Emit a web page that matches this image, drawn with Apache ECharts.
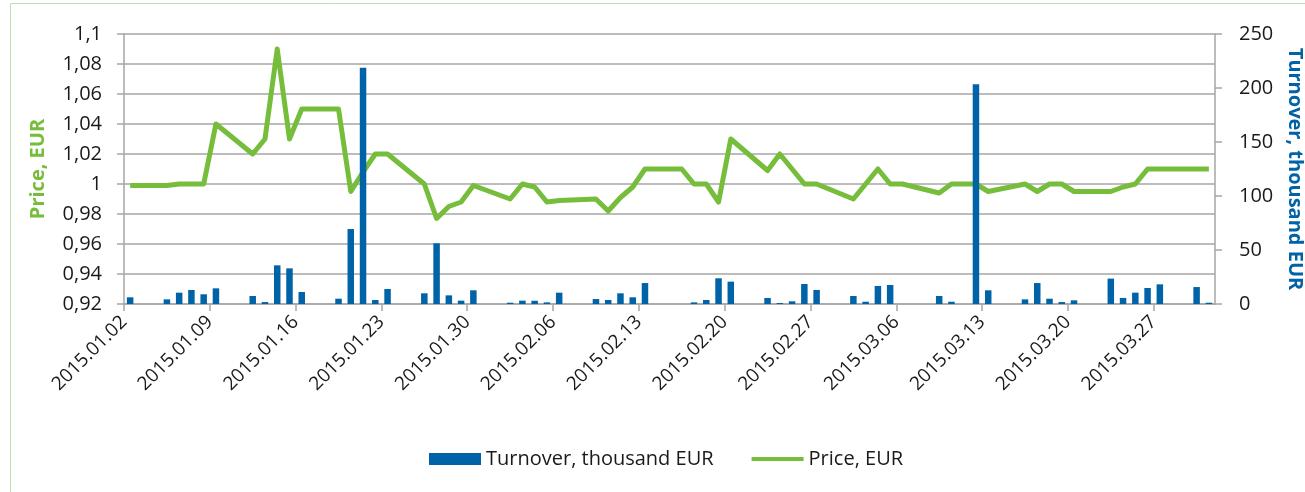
<!DOCTYPE html>
<html>
<head>
<meta charset="utf-8">
<script src="https://cdn.jsdelivr.net/npm/echarts@6/dist/echarts.min.js"></script>
<style>
	html, body { margin: 0; padding: 0; background: #fff; }
	#main { width: 1305px; height: 492px; }
</style>
</head>
<body>
<div id="main"></div>
<script>
// trading days
var dates = [
	'2015.01.02', '2015.01.05', '2015.01.06', '2015.01.07', '2015.01.08', '2015.01.09',
	'2015.01.12', '2015.01.13', '2015.01.14', '2015.01.15', '2015.01.16',
	'2015.01.19', '2015.01.20', '2015.01.21', '2015.01.22', '2015.01.23',
	'2015.01.26', '2015.01.27', '2015.01.28', '2015.01.29', '2015.01.30',
	'2015.02.02', '2015.02.03', '2015.02.04', '2015.02.05', '2015.02.06',
	'2015.02.09', '2015.02.10', '2015.02.11', '2015.02.12', '2015.02.13',
	'2015.02.16', '2015.02.17', '2015.02.18', '2015.02.19', '2015.02.20',
	'2015.02.23', '2015.02.24', '2015.02.25', '2015.02.26', '2015.02.27',
	'2015.03.02', '2015.03.03', '2015.03.04', '2015.03.05', '2015.03.06',
	'2015.03.09', '2015.03.10', '2015.03.11', '2015.03.12', '2015.03.13',
	'2015.03.16', '2015.03.17', '2015.03.18', '2015.03.19', '2015.03.20',
	'2015.03.23', '2015.03.24', '2015.03.25', '2015.03.26', '2015.03.27',
	'2015.03.30', '2015.03.31'
];
// thousand EUR, null = no trade
var turnover = [
	6.2, 4.3, 10.5, 13, 9, 14.5,
	7.4, 1.8, 35.8, 33, 11.1,
	4.9, 69.4, 218.8, 3.7, 13.9,
	9.9, 56.2, 8, 3.1, 12.7,
	1.2, 3.1, 3, 1.5, 10.5,
	4.6, 3.7, 9.9, 6.2, 19.4,
	null, 1.5, 3.7, 23.8, 20.7,
	5.6, 0.9, 2.5, 18.5, 13,
	7.4, 2.1, 16.7, 17.6, null,
	7.4, 2.1, null, 203.4, 12.7,
	4.3, 19.4, 4.9, 1.8, 3.4,
	23.5, 5.6, 10.5, 14.8, 18.2,
	15.7, 1.2
];
// EUR
var price = [
	0.999, 0.999, 1.0, 1.0, 1.0, 1.04,
	1.02, 1.03, 1.09, 1.03, 1.05,
	1.05, 0.995, 1.008, 1.02, 1.02,
	1.0, 0.977, 0.985, 0.988, 0.999,
	0.99, 1.0, 0.998, 0.988, 0.989,
	0.99, 0.982, 0.991, 0.998, 1.01,
	1.01, 1.0, 1.0, 0.988, 1.03,
	1.009, 1.02, 1.01, 1.0, 1.0,
	0.99, 1.0, 1.01, 1.0, 1.0,
	0.994, 1.0, 1.0, 1.0, 0.995,
	1.0, 0.995, 1.0, 1.0, 0.995,
	0.995, 0.998, 1.0, 1.01, 1.01,
	1.01, 1.01
];
var priceTicks = { min: 0.92, max: 1.1, step: 0.02 };
var turnoverTicks = { min: 0, max: 250, step: 50 };

var DAY = 86400000;
var startDay = Date.UTC(2015, 0, 2);

function dayIndex(s) {
	var p = s.split('.');
	return (Date.UTC(+p[0], +p[1] - 1, +p[2]) - startDay) / DAY;
}
function pad(n) {
	return n < 10 ? '0' + n : '' + n;
}
function dayLabel(v) {
	var d = new Date(startDay + Math.round(v) * DAY);
	return d.getUTCFullYear() + '.' + pad(d.getUTCMonth() + 1) + '.' + pad(d.getUTCDate());
}

var barData = [];
var lineData = [];
for (var i = 0; i < dates.length; i++) {
	var x = dayIndex(dates[i]) + 0.5; // centre of the day slot
	if (turnover[i] != null) {
		barData.push([x, turnover[i]]);
	}
	lineData.push([x, price[i]]);
}
var lastDay = dayIndex(dates[dates.length - 1]) + 1;

var font = "'Open Sans', sans-serif";
var gridColor = '#a6a6a6';
var blue = '#0063a7';
var green = '#76bd3c';

var option = {
	animation: false,
	textStyle: { fontFamily: font },
	graphic: [{
		type: 'rect',
		shape: { x: 10.5, y: 3.5, width: 1310, height: 510 },
		style: { fill: 'none', stroke: '#bfe0aa', lineWidth: 1 },
		silent: true
	}],
	grid: { left: 124, right: 90, top: 34, bottom: 188, outerBoundsMode: 'none' },
	legend: {
		left: 424,
		top: 444,
		itemWidth: 52,
		itemHeight: 12,
		itemGap: 38,
		textStyle: { fontFamily: font, fontSize: 20, color: '#1a1a1a' },
		data: [
			{ name: 'Turnover, thousand EUR', icon: 'rect' },
			{ name: 'Price, EUR', icon: 'path://M0,0 L52,0 L52,4 L0,4 Z', itemStyle: { color: green } }
		]
	},
	xAxis: {
		type: 'value',
		min: 0,
		max: lastDay,
		interval: 7,
		splitLine: { show: false },
		axisLine: { lineStyle: { color: gridColor, width: 1.5 } },
		axisTick: { length: 7, lineStyle: { color: gridColor, width: 1.5 } },
		axisLabel: {
			rotate: 45,
			margin: 15,
			showMaxLabel: false,
			fontSize: 19,
			color: '#1a1a1a',
			fontFamily: font,
			formatter: dayLabel
		}
	},
	yAxis: [{
		type: 'value',
		min: priceTicks.min,
		max: priceTicks.max,
		interval: priceTicks.step,
		name: 'Price, EUR',
		nameLocation: 'middle',
		nameGap: 76,
		nameRotate: 90,
		nameTextStyle: { color: green, fontWeight: 'bold', fontSize: 20, fontFamily: font },
		axisLine: { show: true, lineStyle: { color: gridColor, width: 1.5 } },
		axisTick: { show: true, length: 7, lineStyle: { color: gridColor, width: 1.5 } },
		splitLine: { lineStyle: { color: gridColor, width: 1.5 } },
		axisLabel: {
			fontSize: 20,
			margin: 22,
			color: '#1a1a1a',
			fontFamily: font,
			formatter: function (v) {
				return String(+v.toFixed(2)).replace('.', ',');
			}
		}
	}, {
		type: 'value',
		position: 'right',
		min: turnoverTicks.min,
		max: turnoverTicks.max,
		interval: turnoverTicks.step,
		name: 'Turnover, thousand EUR',
		nameLocation: 'middle',
		nameGap: 70,
		nameRotate: -90,
		nameTextStyle: { color: blue, fontWeight: 'bold', fontSize: 20, fontFamily: font },
		axisLine: { show: true, lineStyle: { color: gridColor, width: 1.5 } },
		axisTick: { show: true, length: 7, lineStyle: { color: gridColor, width: 1.5 } },
		splitLine: { show: false },
		axisLabel: { fontSize: 20, margin: 24, color: '#1a1a1a', fontFamily: font }
	}],
	series: [{
		name: 'Turnover, thousand EUR',
		type: 'bar',
		yAxisIndex: 1,
		barWidth: 6.5,
		z: 3,
		itemStyle: { color: blue },
		data: barData
	}, {
		name: 'Price, EUR',
		type: 'line',
		yAxisIndex: 0,
		z: 2,
		symbol: 'none',
		connectNulls: true,
		lineStyle: { color: green, width: 5, join: 'round' },
		itemStyle: { color: green },
		data: lineData
	}]
};

var myChart = echarts.init(document.getElementById('main'));
myChart.setOption(option);
</script>
</body>
</html>
